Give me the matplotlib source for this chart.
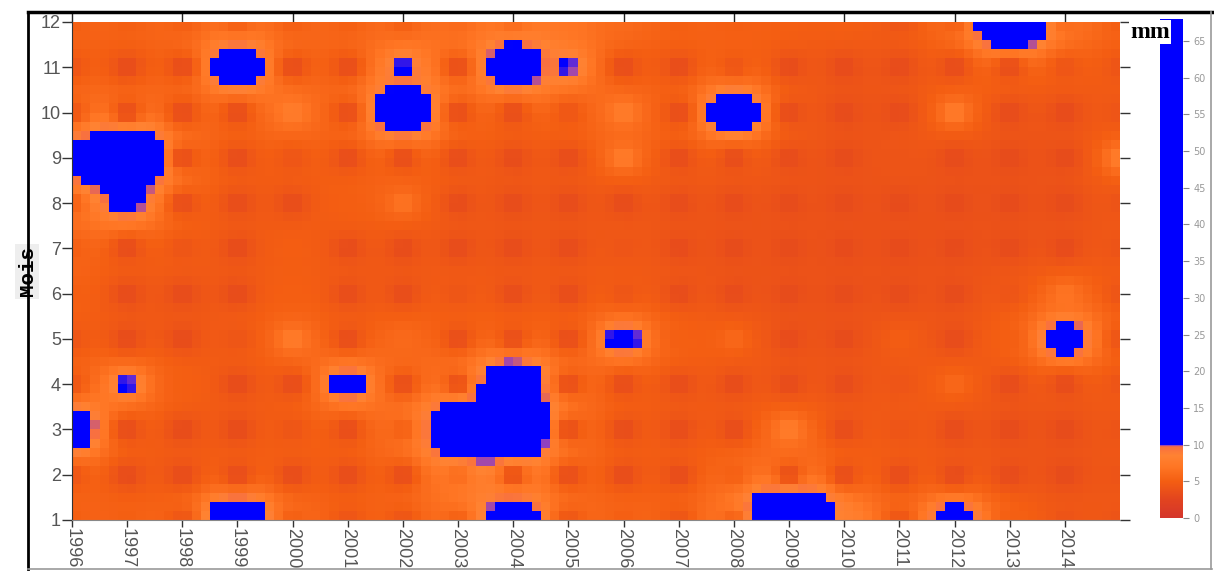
import numpy as np
import matplotlib
matplotlib.use('Agg')
import matplotlib.pyplot as plt
from matplotlib.colors import LinearSegmentedColormap, Normalize
from matplotlib.lines import Line2D

# ---------------- data ----------------
years = list(range(1996, 2016))          # grid nodes (columns)
months = list(range(1, 13))              # grid nodes (rows)
tick_years = list(range(1996, 2015))     # labelled years
top_tick_years = list(range(1996, 2015, 2))
cbar_ticks = list(range(0, 70, 5))

# monthly rainfall (mm); rows = months 1..12, cols = years 1996..2015
jan = [5, 5, 4, 28, 5, 4, 4, 5, 22, 4, 5, 4, 5, 60, 8, 4, 18, 5, 4, 4]
feb = [4, 3, 3, 3, 3, 3, 3, 6, 3, 3, 3, 3, 5, 3, 3, 3, 3, 3, 3, 4]
mar = [21, 3, 3, 3, 4, 3, 5, 30, 42, 3, 3, 3, 3, 8, 3, 4, 3, 3, 3, 4]
apr = [4, 11, 5, 3, 3, 16, 3, 3, 30, 3, 3, 3, 3, 3, 3, 4, 6, 3, 3, 4]
may = [4, 3, 3, 4, 8, 3, 6, 3, 3, 3, 16, 5, 6, 3, 3, 5, 3, 5, 20, 4]
jun = [5, 3, 3, 3, 5, 3, 3, 4, 3, 3, 4, 3, 3, 3, 3, 3, 3, 4, 7, 4]
jul = [5, 3, 4, 3, 5, 3, 3, 3, 3, 3, 4, 3, 3, 3, 3, 3, 3, 3, 3, 4]
aug = [5, 12.5, 3, 3, 3, 5, 7, 3, 3, 3, 3, 3, 3, 3, 3, 3, 3, 3, 3, 4]
sep = [12, 50, 3, 3, 4, 3, 3, 3, 3, 3, 8, 3, 3, 3, 3, 4, 3, 3, 3, 8]
oct_ = [4, 3, 3, 3, 8, 3, 30, 3, 3, 4, 8, 3, 28, 3, 3, 3, 8, 3, 3, 4]
nov = [4, 3, 3, 24, 3, 3, 10.7, 3, 26, 10.7, 3, 3, 4, 3, 3, 3, 3, 3, 4, 4]
dec = [5, 5, 5, 5, 5, 5, 5, 6, 6, 7, 6, 5, 5, 5, 5, 4, 5, 40, 6, 5]
rain = np.array([jan, feb, mar, apr, may, jun, jul, aug, sep, oct_, nov, dec], dtype=float)

# ---------------- gridding (inverse distance weighting) ----------------
xe = np.linspace(1996, 2015, 19 * 6 + 1)
ye = np.linspace(1, 12, 11 * 5 + 1)
xc = 0.5 * (xe[:-1] + xe[1:])
yc = 0.5 * (ye[:-1] + ye[1:])
GX, GY = np.meshgrid(xc, yc)
NX, NY = np.meshgrid(np.array(years, float), np.array(months, float))
d2 = (GX[..., None, None] - NX) ** 2 + (GY[..., None, None] - NY) ** 2
w = 1.0 / np.maximum(d2, 1e-9)
Z = (w * rain).sum(axis=(-1, -2)) / w.sum(axis=(-1, -2))

# ---------------- colormap ----------------
vmax = 68.0
stops = [(0.0, '#d4362c'), (2.5, '#e2441f'), (5.0, '#f45e12'), (7.0, '#ff7624'),
         (8.5, '#ff8232'), (9.7, '#f87040'), (9.9, '#9040c0'), (10.0, '#0000ff'),
         (vmax, '#0000ff')]
cmap = LinearSegmentedColormap.from_list('rain', [(v / vmax, c) for v, c in stops], N=2048)
norm = Normalize(0, vmax)

# ---------------- figure ----------------
W, H = 1214, 572
fig = plt.figure(figsize=(W / 100, H / 100), dpi=100)
fig.patch.set_facecolor('white')

ax = fig.add_axes([72 / W, 1 - 520 / H, (1120 - 72) / W, (520 - 22) / H])
mesh = ax.pcolormesh(xe, ye, Z, cmap=cmap, norm=norm, shading='flat')
ax.set_xlim(1996, 2015)
ax.set_ylim(1, 12)

ax.set_xticks(tick_years)
ax.set_xticklabels([str(y) for y in tick_years], rotation=-90, fontsize=13,
                   color='#555555', family='Liberation Sans')
ax.set_yticks(months)
ax.set_yticklabels([str(m) for m in months], fontsize=13, color='#555555',
                   family='Liberation Sans')
ax.tick_params(axis='x', direction='out', length=5, width=1, pad=1, color='#333333')
ax.tick_params(axis='y', direction='out', length=7, width=1, pad=1, color='#333333',
               right=True)
for s in ax.spines.values():
    s.set_visible(False)
ax.spines['bottom'].set_visible(True)
ax.spines['bottom'].set_color('#888888')
ax.spines['left'].set_visible(True)
ax.spines['left'].set_color('#333333')

sec = ax.secondary_xaxis('top')
sec.set_xticks(top_tick_years)
sec.set_xticklabels([])
sec.tick_params(direction='out', length=7.5, width=1, color='#222222')
sec.spines['top'].set_visible(False)

ax.set_ylabel('Mois', family='Liberation Mono', fontweight='bold', fontsize=15,
              color='black', labelpad=3,
              bbox=dict(boxstyle='square,pad=0.12', fc='#eeeeee', ec='none'))

# colorbar
cax = fig.add_axes([1160 / W, 1 - 518 / H, 23 / W, (518 - 19) / H])
cb = fig.colorbar(mesh, cax=cax, ticks=cbar_ticks)
cb.outline.set_visible(False)
cax.set_ylim(0, vmax)
cax.tick_params(labelsize=7, colors='#888888', length=4, width=0.8)
for t in cax.get_yticklabels():
    t.set_color('#999999')
fig.text(1130 / W, 1 - 32 / H, 'mm', family='Liberation Serif', fontweight='bold',
         fontsize=17, color='black', ha='left', va='center',
         bbox=dict(boxstyle='square,pad=0.05', fc='white', ec='none'))

# outer frame
fig.add_artist(Line2D([28 / W, 28 / W], [1 - 569 / H, 1 - 12 / H], color='black', lw=2))
fig.add_artist(Line2D([28 / W, 1212 / W], [1 - 12 / H, 1 - 12 / H], color='black', lw=2.5))
fig.add_artist(Line2D([1211 / W, 1211 / W], [1 - 569 / H, 1 - 12 / H], color='#999999', lw=1.2))
fig.add_artist(Line2D([28 / W, 1212 / W], [1 - 569 / H, 1 - 569 / H], color='#999999', lw=1.2))

fig.savefig('out.png', dpi=100)
